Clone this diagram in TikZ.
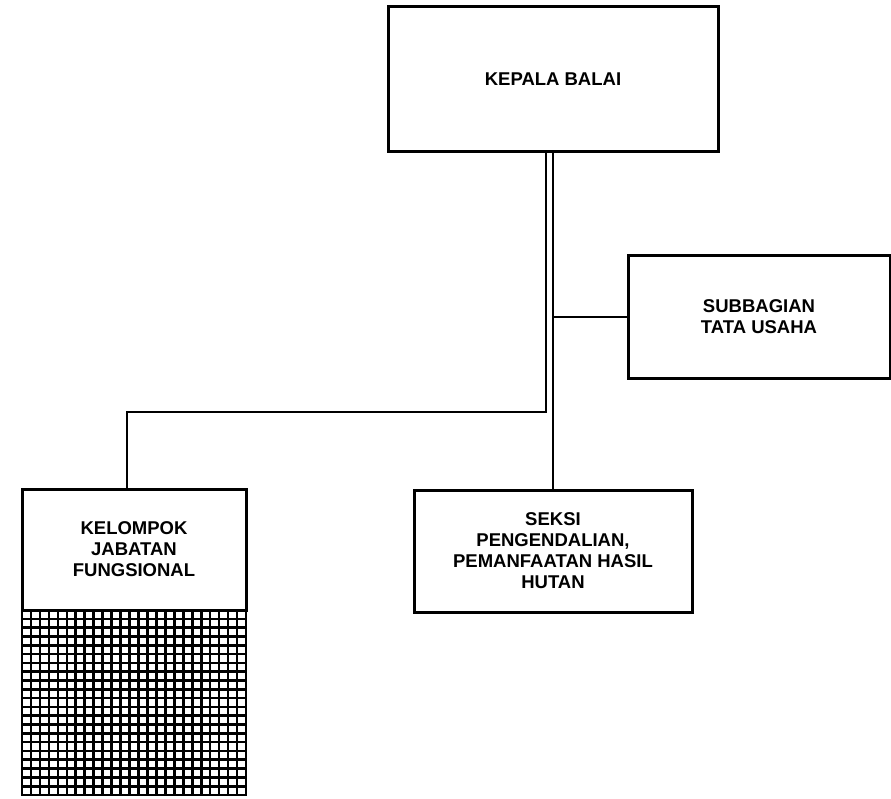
\documentclass[tikz,border=0pt]{standalone}
\usepackage{fontspec}
\setmainfont{Liberation Sans}
\begin{document}
\begin{tikzpicture}[x=1pt,y=-1pt,
  orgbox/.style={draw=black,line width=3pt,fill=white,rectangle,align=center,inner sep=0pt,
    font=\bfseries\fontsize{18.5}{21}\selectfont},
  conn/.style={draw=black,line width=2.6pt},
  gridline/.style={draw=black,line width=2.6pt}]
\useasboundingbox[fill=white] (0,0) rectangle (891,799);

\node[orgbox,minimum width=330pt,minimum height=145pt] (kepala) at (553,79.5) {KEPALA BALAI};
\node[orgbox,minimum width=262pt,minimum height=122pt] (sub) at (759,317) {SUBBAGIAN\\TATA USAHA};
\node[orgbox,minimum width=278pt,minimum height=122pt] (seksi) at (553,551) {SEKSI\\PENGENDALIAN,\\PEMANFAATAN HASIL\\HUTAN};
\node[orgbox,minimum width=224pt,minimum height=121pt] (kel) at (134,549.5) {KELOMPOK\\JABATAN\\FUNGSIONAL};

% hatched (grid) lower part of the functional group box
\draw[gridline] (22,610) rectangle (246,795);
\foreach \i in {1,...,24} {\draw[gridline] (22+\i*8.96,610) -- (22+\i*8.96,795);}
\foreach \j in {1,...,20} {\draw[gridline] (22,610+\j*8.81) -- (246,610+\j*8.81);}

% connectors
\coordinate (j) at (546,412);
\draw[conn] ([xshift=-7pt]kepala.south) -- (j) -| ([xshift=-7pt]kel.north);
\draw[conn] (kepala.south) -- (seksi.north);
\draw[conn] (sub.west) -- (sub.west -| kepala.south);
\end{tikzpicture}
\end{document}
